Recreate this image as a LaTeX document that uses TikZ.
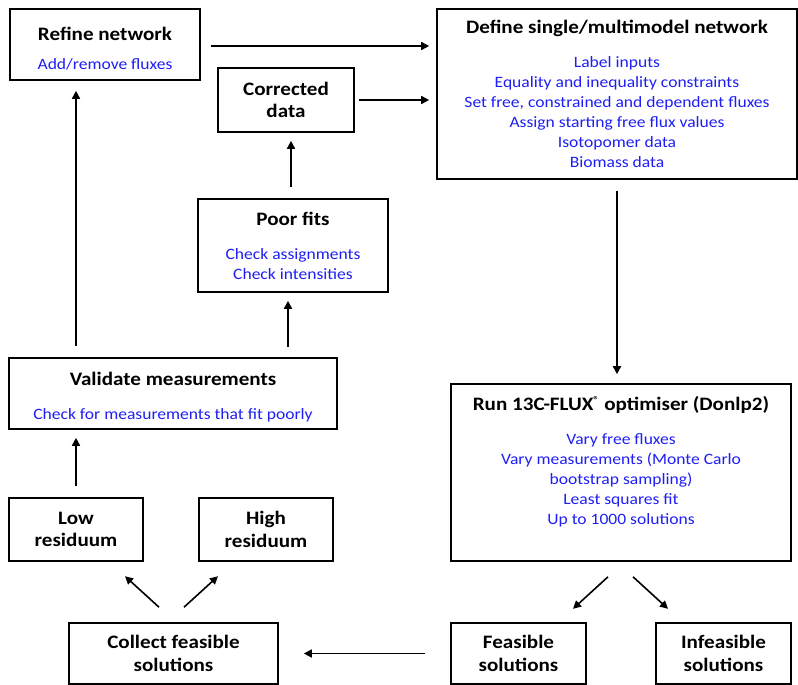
\documentclass[tikz,border=0pt]{standalone}
\usepackage{fontspec}
\setmainfont{Carlito}[FakeStretch=1.11]
\usetikzlibrary{arrows.meta,calc}
\definecolor{fluxblue}{RGB}{30,30,245}
\newcommand{\ttl}[1]{{\fontsize{19}{22}\selectfont\bfseries #1}}

\begin{document}
\begin{tikzpicture}[x=1pt,y=-1pt,
        box/.style={draw, line width=1.6pt, align=center, inner sep=0pt, text=fluxblue,
                    font=\fontsize{15.8}{20}\selectfont},
        twoline/.style={box, text=black, font=\fontsize{19}{22.5}\selectfont\bfseries},
        flow/.style={line width=1.6pt, -{Triangle[length=8pt,width=8pt]}}]
            \useasboundingbox (0,0) rectangle (798,685);

            \node[box, minimum width=190pt, minimum height=71pt] (refine) at (105,44.5)
                {\rule{0pt}{21pt}\textcolor{black}{\ttl{Refine network}}\\[9pt]Add/remove fluxes};
            \node[twoline, minimum width=136pt, minimum height=64pt] (corrected) at (286,100)
                {Corrected\\data};
            \node[box, minimum width=360pt, minimum height=170pt] (define) at (617,94)
                {\textcolor{black}{\ttl{Define single/multimodel network}}\\[14pt]
                 Label inputs\\Equality and inequality constraints\\
                 Set free, constrained and dependent fluxes\\Assign starting free flux values\\
                 Isotopomer data\\Biomass data};
            \node[box, minimum width=190pt, minimum height=93pt] (poor) at (293,245.5)
                {\textcolor{black}{\ttl{Poor fits}}\\[14pt]Check assignments\\Check intensities};
            \node[box, minimum width=328pt, minimum height=71pt] (validate) at (173,393.5)
                {\rule{0pt}{21pt}\textcolor{black}{\ttl{Validate measurements}}\\[14pt]Check for measurements that fit poorly};
            \node[box, minimum width=340pt, minimum height=177pt] (run) at (621,472.5)
                {\textcolor{black}{\ttl{Run 13C-FLUX\textsuperscript{\fontsize{10}{10}\selectfont\textregistered} optimiser (Donlp2)}}\\[14pt]
                 Vary free fluxes\\Vary measurements (Monte Carlo\\bootstrap sampling)\\
                 Least squares fit\\Up to 1000 solutions\\[5pt]\mbox{}};
            \node[twoline, minimum width=134pt, minimum height=63pt] (low) at (76,529.5) {Low\\residuum};
            \node[twoline, minimum width=134pt, minimum height=63pt] (high) at (266,529.5) {High\\residuum};
            \node[twoline, minimum width=209pt, minimum height=61pt] (collect) at (173.5,653.5)
                {Collect feasible\\solutions};
            \node[twoline, minimum width=135pt, minimum height=61pt] (feasible) at (518.5,653.5)
                {Feasible\\solutions};
            \node[twoline, minimum width=135pt, minimum height=61pt] (infeasible) at (723.5,653.5)
                {Infeasible\\solutions};

            \draw[flow, shorten <=10pt, shorten >=7pt] ([yshift=-1.5pt]refine.east) -- ([yshift=-1.5pt]refine.east -| define.west);
            \draw[flow, shorten <=4pt, shorten >=7pt] (corrected.east) -- (corrected.east -| define.west);
            \draw[flow, shorten <=11pt, shorten >=9pt] (define.south) -- (define.south |- run.north);
            \draw[flow, shorten <=11pt, shorten >=8pt] ([xshift=-2pt]poor.north) -- ([xshift=-2pt]poor.north |- corrected.south);
            \draw[flow, shorten <=10pt, shorten >=8pt] ([xshift=-5pt]poor.south |- validate.north) -- ([xshift=-5pt]poor.south);
            \draw[flow, shorten <=11pt, shorten >=10pt] (low |- validate.north) -- (low |- refine.south);
            \draw[flow, shorten <=11pt, shorten >=8pt] (low.north) -- (low |- validate.south);
            \draw[flow] ($(collect.north)+(-14.5,-15)$) -- ($(collect.north)+(-48.5,-46)$);
            \draw[flow] ($(collect.north)+(10.5,-15)$) -- ($(collect.north)+(44.5,-46)$);
            \draw[flow] ($(run.south)+(-13,15)$) -- ($(run.south)+(-48,47)$);
            \draw[flow] ($(run.south)+(12,15)$) -- ($(run.south)+(47,47)$);
            \draw[flow, shorten <=25pt, shorten >=25pt] (feasible.west) -- (collect.east);
        \end{tikzpicture}
\end{document}
